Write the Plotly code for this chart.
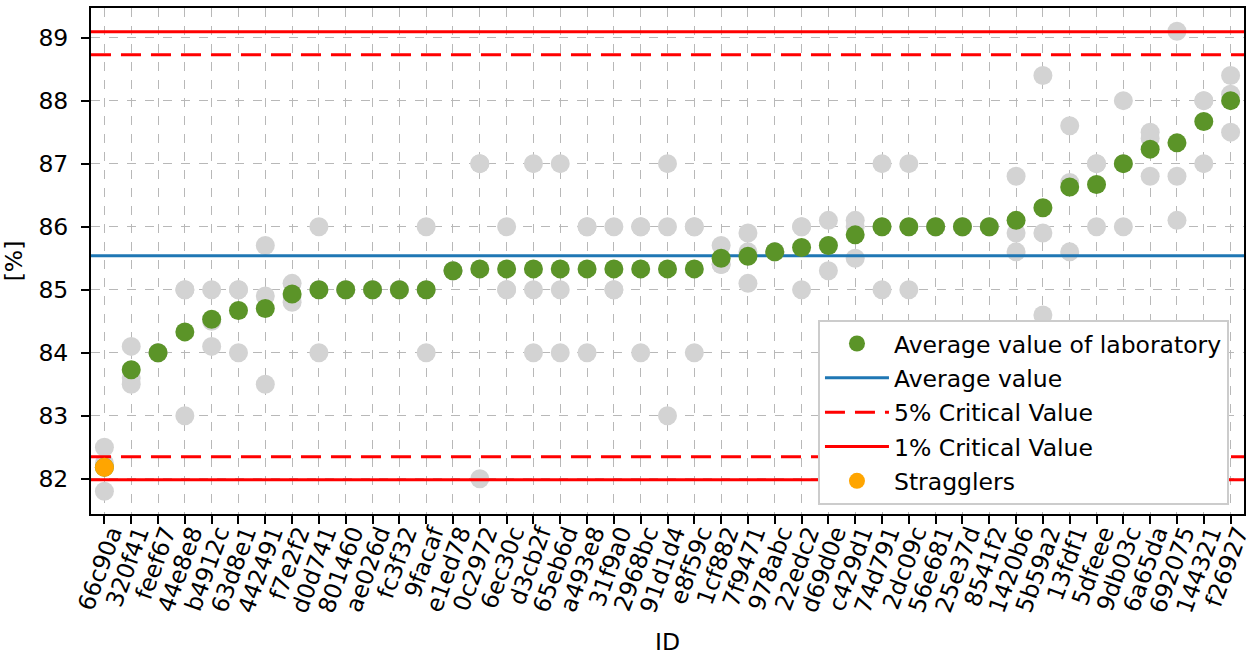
import plotly.graph_objects as go

lab_ids = ["66c90a", "320f41", "feef67", "44e8e8", "b4912c", "63d8e1", "442491", "f7e2f2",
           "d0d741", "801460", "ae026d", "fc3f32", "9facaf", "e1ed78", "0c2972", "6ec30c",
           "d3cb2f", "65eb6d", "a493e8", "31f9a0", "2968bc", "91d1d4", "e8f59c", "1cf882",
           "7f9471", "978abc", "22edc2", "d69d0e", "c429d1", "74d791", "2dc09c", "56e681",
           "25e37d", "8541f2", "1420b6", "5b59a2", "13fdf1", "5dfeee", "9db03c", "6a65da",
           "692075", "144321", "f26927"]

replicates = [
    [82.5, 81.8, 82.25], [84.1, 83.6, 83.5], [84.0, 84.0, 84.0], [85.0, 85.0, 83.0],
    [85.0, 84.1, 84.5], [85.0, 85.0, 84.0], [85.7, 84.9, 83.5], [85.1, 84.8, 84.9],
    [86.0, 85.0, 84.0], [85.0, 85.0, 85.0], [85.0, 85.0, 85.0], [85.0, 85.0, 85.0],
    [86.0, 85.0, 84.0], [85.3, 85.3, 85.3], [87.0, 87.0, 82.0], [86.0, 85.0, 85.0],
    [87.0, 85.0, 84.0], [87.0, 85.0, 84.0], [86.0, 86.0, 84.0], [86.0, 85.0, 85.0],
    [86.0, 86.0, 84.0], [87.0, 86.0, 83.0], [86.0, 86.0, 84.0], [85.7, 85.4, 85.4],
    [85.9, 85.6, 85.1], [85.6, 85.6, 85.6], [86.0, 86.0, 85.0], [86.1, 85.7, 85.3],
    [86.1, 86.0, 85.5], [87.0, 86.0, 85.0], [87.0, 86.0, 85.0], [86.0, 86.0, 86.0],
    [86.0, 86.0, 86.0], [86.0, 86.0, 86.0], [86.8, 85.9, 85.6], [88.4, 85.9, 84.6],
    [87.6, 86.7, 85.6], [87.0, 87.0, 86.0], [88.0, 87.0, 86.0], [87.5, 87.4, 86.8],
    [89.1, 86.8, 86.1], [88.0, 88.0, 87.0], [88.4, 88.1, 87.5],
]

lab_averages = [82.18, 83.73, 84.0, 84.33, 84.53, 84.67, 84.7, 84.93, 85.0, 85.0, 85.0,
                85.0, 85.0, 85.3, 85.33, 85.33, 85.33, 85.33, 85.33, 85.33, 85.33, 85.33,
                85.33, 85.5, 85.53, 85.6, 85.67, 85.7, 85.87, 86.0, 86.0, 86.0, 86.0, 86.0,
                86.1, 86.3, 86.63, 86.67, 87.0, 87.23, 87.33, 87.67, 88.0]

straggler_ids = ["66c90a"]
straggler_values = [82.18]

overall_average = 85.54
crit5_low, crit5_high = 82.35, 88.73
crit1_low, crit1_high = 81.985, 89.095

y_range = [81.44, 89.47]
y_ticks = [82, 83, 84, 85, 86, 87, 88, 89]

idx = list(range(len(lab_ids)))
x_span = [-0.5, len(lab_ids) - 0.5]

FONT = "DejaVu Sans"
FS = 23.5

fig = go.Figure()

# replicate measurements (grey)
gx, gy = [], []
for i, reps in enumerate(replicates):
    for v in reps:
        gx.append(i)
        gy.append(v)
fig.add_trace(go.Scatter(x=gx, y=gy, mode="markers", showlegend=False,
                         marker=dict(color="#d3d3d3", size=19, line=dict(width=0)),
                         hoverinfo="skip"))

def hline(y, color, dash, name, rank):
    fig.add_trace(go.Scatter(x=x_span, y=[y, y], mode="lines", name=name,
                             line=dict(color=color, width=3, dash=dash),
                             legendrank=rank, legendgroup=name))

hline(overall_average, "#1f77b4", "solid", "Average value", 2)
hline(crit5_high, "#ff0000", "20px,10px", "5% Critical Value", 3)
fig.add_trace(go.Scatter(x=x_span, y=[crit5_low, crit5_low], mode="lines",
                         line=dict(color="#ff0000", width=3, dash="20px,10px"),
                         showlegend=False))
hline(crit1_high, "#ff0000", "solid", "1% Critical Value", 4)
fig.add_trace(go.Scatter(x=x_span, y=[crit1_low, crit1_low], mode="lines",
                         line=dict(color="#ff0000", width=3), showlegend=False))

fig.add_trace(go.Scatter(x=idx, y=lab_averages, mode="markers",
                         name="Average value of laboratory", legendrank=1,
                         legendgroup="avg",
                         marker=dict(color="#5b9428", size=19, line=dict(width=0))))

s_idx = [lab_ids.index(s) for s in straggler_ids]
fig.add_trace(go.Scatter(x=s_idx, y=straggler_values, mode="markers",
                         name="Stragglers", legendrank=5, legendgroup="strag",
                         marker=dict(color="#ffa500", size=19, line=dict(width=0))))

axis_common = dict(showline=True, linecolor="black", linewidth=2, mirror=True,
                   ticks="outside", ticklen=8, tickwidth=2, tickcolor="black",
                   showgrid=True, gridcolor="#b8b8b8", gridwidth=1, griddash="dash",
                   zeroline=False, automargin=False,
                   tickfont=dict(family=FONT, size=FS, color="black"))

fig.update_layout(
    width=1258, height=659,
    margin=dict(l=91, r=14, t=8, b=145),
    paper_bgcolor="white", plot_bgcolor="white",
    font=dict(family=FONT, size=FS, color="black"),
    xaxis=dict(range=x_span, tickmode="array", tickvals=idx, ticktext=lab_ids,
               tickangle=-70, ticklabelstandoff=-14, ticklabelshift=7,
               title=dict(text="ID", font=dict(family=FONT, size=FS), standoff=18),
               **axis_common),
    yaxis=dict(range=y_range, tickmode="array", tickvals=y_ticks,
               ticklabelstandoff=8,
               title=dict(text="[%]", font=dict(family=FONT, size=FS), standoff=10),
               **axis_common),
    legend=dict(x=0.6305, y=0.384, xanchor="left", yanchor="top",
                bgcolor="white", bordercolor="#cccccc", borderwidth=2,
                font=dict(family=FONT, size=FS), itemwidth=64,
                tracegroupgap=0.8),
    showlegend=True,
)

fig.write_html("out.html", post_script="document.body.style.margin='0';",
               config={"displayModeBar": False})
